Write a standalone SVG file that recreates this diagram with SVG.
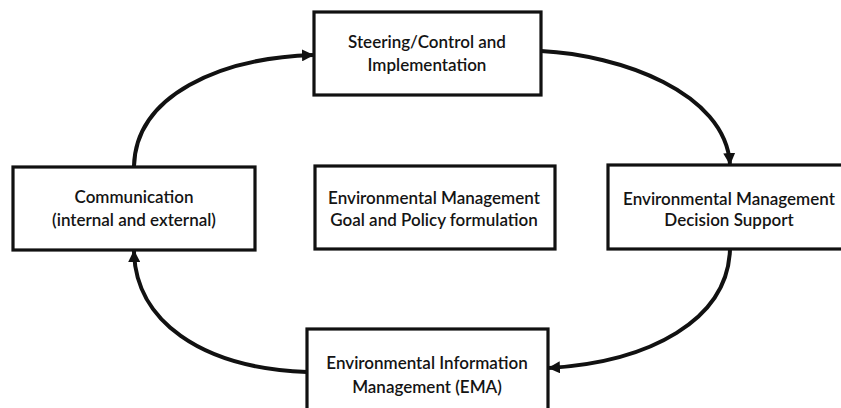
<svg xmlns="http://www.w3.org/2000/svg" width="841" height="408" viewBox="0 0 841 408">
  <style>
    .box { fill: #ffffff; stroke: #111111; stroke-width: 3.2; }
    .lbl { font-family: Lato, "Open Sans", "Liberation Sans", sans-serif; font-size: 17px; font-weight: 600; fill: #141414; text-anchor: middle; }
    .flow { fill: none; stroke: #111111; stroke-width: 4; marker-end: url(#head); }
  </style>
  <defs>
    <marker id="head" viewBox="0 0 12 12" refX="11" refY="6" markerWidth="12" markerHeight="12" markerUnits="userSpaceOnUse" orient="auto">
      <path d="M0,0 L12,6 L0,12 Z" fill="#111111"/>
    </marker>
  </defs>

  <rect width="841" height="408" fill="#ffffff"/>

  <!-- cycle connectors -->
  <g id="connectors">
    <path class="flow" d="M134,166 C136,95 220,58 313,55"/>
    <path class="flow" d="M541,51 C620,55 725,92 730,164"/>
    <path class="flow" d="M730,249 C728,320 650,362 549,368"/>
    <path class="flow" d="M307,372 C200,368 135,320 134,251"/>
  </g>

  <g id="steering">
    <rect class="box" x="314" y="12" width="227" height="83"/>
    <text class="lbl" x="427" y="48">Steering/Control and</text>
    <text class="lbl" x="427" y="71">Implementation</text>
  </g>

  <g id="communication">
    <rect class="box" x="13" y="167" width="242" height="83"/>
    <text class="lbl" x="134" y="203">Communication</text>
    <text class="lbl" x="134" y="226">(internal and external)</text>
  </g>

  <g id="goal-policy">
    <rect class="box" x="315" y="166" width="240" height="83"/>
    <text class="lbl" x="434" y="204">Environmental Management</text>
    <text class="lbl" x="434" y="226">Goal and Policy formulation</text>
  </g>

  <g id="decision-support">
    <rect class="box" x="608" y="165" width="245" height="84"/>
    <text class="lbl" x="729" y="205">Environmental Management</text>
    <text class="lbl" x="729" y="226">Decision Support</text>
  </g>

  <g id="information-management">
    <rect class="box" x="307" y="329" width="241" height="90"/>
    <text class="lbl" x="427" y="369">Environmental Information</text>
    <text class="lbl" x="427" y="393">Management (EMA)</text>
  </g>
</svg>
